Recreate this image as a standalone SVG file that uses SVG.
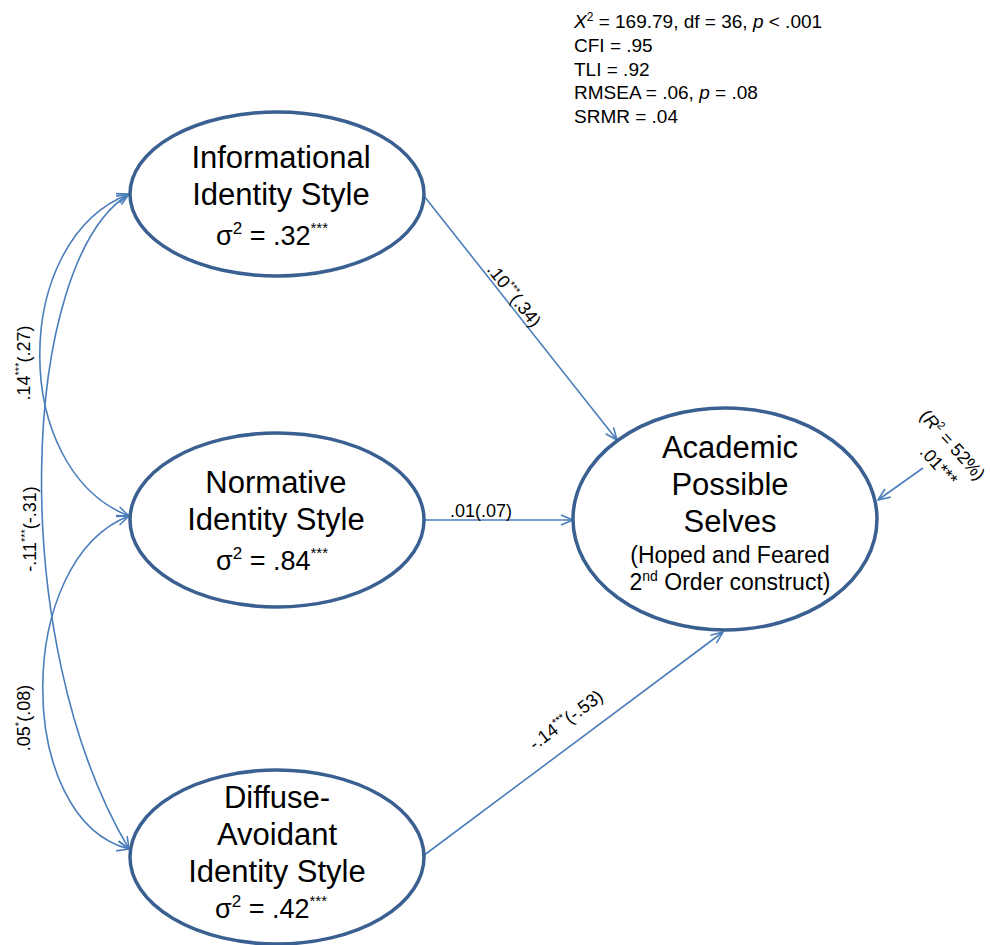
<svg xmlns="http://www.w3.org/2000/svg" width="990" height="945" viewBox="0 0 990 945">
  <style>
    text { font-family: "Liberation Sans", Arial, sans-serif; fill: #000; }
    .node { fill: #fff; stroke: #3A5F91; stroke-width: 3.5; }
    .title { font-size: 31px; text-anchor: middle; }
    .sub { font-size: 23px; text-anchor: middle; }
    .var { font-size: 27px; text-anchor: middle; }
    .lbl { font-size: 18px; text-anchor: middle; }
    .fit { font-size: 19px; }
    .edge { fill: none; stroke: #4A7EBB; stroke-width: 1.6; }
  </style>
  <defs>
    <marker id="arrow" viewBox="0 0 14 12" markerWidth="14" markerHeight="12" refX="13" refY="6" orient="auto-start-reverse" markerUnits="userSpaceOnUse">
      <path d="M1,1 L13,6 L1,11" fill="none" stroke="#4A7EBB" stroke-width="1.6" stroke-linejoin="round"/>
    </marker>
  </defs>

  <rect width="990" height="945" fill="#fff"/>

  <!-- model fit statistics -->
  <g id="fit-stats" class="fit">
    <text x="574" y="28"><tspan font-style="italic">X</tspan><tspan font-size="12" dy="-7">2</tspan><tspan dy="7"> = 169.79, df = 36, </tspan><tspan font-style="italic">p</tspan> &lt; .001</text>
    <text x="574" y="52">CFI = .95</text>
    <text x="574" y="76">TLI = .92</text>
    <text x="574" y="99">RMSEA = .06, <tspan font-style="italic">p</tspan> = .08</text>
    <text x="574" y="123">SRMR = .04</text>
  </g>

  <!-- connectors -->
  <g id="connectors">
    <!-- covariances -->
    <path class="edge" d="M129,194 C10,240 10,470 129,516" marker-start="url(#arrow)" marker-end="url(#arrow)"/>
    <path class="edge" d="M129,194 C20,262 5,640 129,849" marker-start="url(#arrow)" marker-end="url(#arrow)"/>
    <path class="edge" d="M129,516 C14,560 14,820 129,849" marker-start="url(#arrow)" marker-end="url(#arrow)"/>
    <!-- regression paths -->
    <line class="edge" x1="424" y1="196" x2="617" y2="440" marker-end="url(#arrow)"/>
    <line class="edge" x1="424" y1="520" x2="573" y2="520" marker-end="url(#arrow)"/>
    <line class="edge" x1="423" y1="856" x2="723" y2="632" marker-end="url(#arrow)"/>
    <!-- residual -->
    <line class="edge" x1="923" y1="468" x2="878" y2="500" marker-end="url(#arrow)"/>

    <!-- path labels -->
    <text class="lbl" transform="translate(24,363) rotate(-90)" y="6">.14<tspan font-size="11" dy="-7">***</tspan><tspan dy="7">(.27)</tspan></text>
    <text class="lbl" transform="translate(30,529) rotate(-90)" y="6">-.11<tspan font-size="11" dy="-7">***</tspan><tspan dy="7">(-.31)</tspan></text>
    <text class="lbl" transform="translate(24,718) rotate(-90)" y="6">.05<tspan font-size="11" dy="-7">*</tspan><tspan dy="7">(.08)</tspan></text>
    <text class="lbl" transform="translate(507,301) rotate(51.7)" y="-3">.10<tspan font-size="11" dy="-7">***</tspan><tspan dy="7">(.34)</tspan></text>
    <text class="lbl" x="481" y="517">.01(.07)</text>
    <text class="lbl" transform="translate(566,720) rotate(-36.75)" y="6">-.14<tspan font-size="11" dy="-7">***</tspan><tspan dy="7">(-.53)</tspan></text>
    <g transform="translate(948,449) rotate(48)">
      <text class="lbl" x="0" y="0">(<tspan font-style="italic">R</tspan><tspan font-size="11" dy="-7">2</tspan><tspan dy="7"> = 52%)</tspan></text>
      <text class="lbl" x="6" y="24">.01***</text>
    </g>
  </g>

  <!-- latent factors -->
  <g id="informational">
    <ellipse class="node" cx="277" cy="194" rx="147" ry="82"/>
    <text class="title" x="281" y="168">Informational</text>
    <text class="title" x="281" y="205">Identity Style</text>
    <text class="var" x="272" y="245">σ<tspan font-size="17" dy="-11">2</tspan><tspan dy="11"> = .32</tspan><tspan font-size="15" dy="-12">***</tspan></text>
  </g>

  <g id="normative">
    <ellipse class="node" cx="277" cy="520" rx="147" ry="87"/>
    <text class="title" x="276" y="493">Normative</text>
    <text class="title" x="276" y="530">Identity Style</text>
    <text class="var" x="272" y="570">σ<tspan font-size="17" dy="-11">2</tspan><tspan dy="11"> = .84</tspan><tspan font-size="15" dy="-12">***</tspan></text>
  </g>

  <g id="diffuse-avoidant">
    <ellipse class="node" cx="277" cy="857" rx="147" ry="87"/>
    <text class="title" x="277" y="808">Diffuse-</text>
    <text class="title" x="277" y="845">Avoidant</text>
    <text class="title" x="277" y="882">Identity Style</text>
    <text class="var" x="271" y="918">σ<tspan font-size="17" dy="-11">2</tspan><tspan dy="11"> = .42</tspan><tspan font-size="15" dy="-12">***</tspan></text>
  </g>

  <g id="academic-possible-selves">
    <ellipse class="node" cx="725" cy="519" rx="152" ry="111"/>
    <text class="title" x="730" y="458">Academic</text>
    <text class="title" x="730" y="495">Possible</text>
    <text class="title" x="730" y="532">Selves</text>
    <text class="sub" x="730" y="563">(Hoped and Feared</text>
    <text class="sub" x="730" y="590">2<tspan font-size="14" dy="-9">nd</tspan><tspan dy="9"> Order construct)</tspan></text>
  </g>
</svg>
